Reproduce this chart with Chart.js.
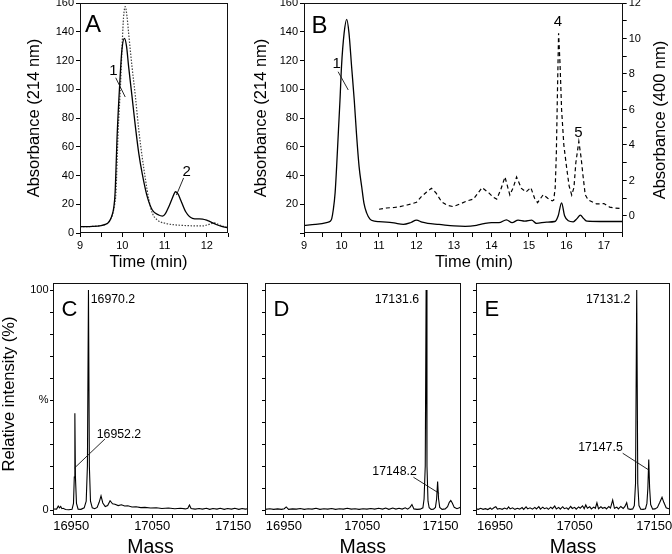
<!DOCTYPE html>
<html><head><meta charset="utf-8">
<script src="https://cdn.jsdelivr.net/npm/chart.js@4.4.0/dist/chart.umd.min.js"></script>
<style>
html,body{margin:0;padding:0;background:#fff;width:672px;height:554px;overflow:hidden}
canvas{position:absolute;left:0;top:0}
</style></head>
<body>
<canvas id="cA" width="672" height="554"></canvas>
<canvas id="cB" width="672" height="554"></canvas>
<canvas id="cC" width="672" height="554"></canvas>
<canvas id="cD" width="672" height="554"></canvas>
<canvas id="cE" width="672" height="554"></canvas>
<script>
// ---------- Panel A: chromatogram (214 nm) ----------
const timeA_solid = [9.0, 9.3, 9.5, 9.6, 9.67, 9.72, 9.76, 9.8, 9.83, 9.88, 9.94, 9.99, 10.05, 10.1, 10.15, 10.23, 10.31, 10.39, 10.47, 10.59, 10.71, 10.86, 10.95, 11.02, 11.1, 11.18, 11.26, 11.32, 11.38, 11.5, 11.66, 11.8, 11.9, 12.02, 12.1, 12.22, 12.35, 12.5];
const absA_solid  = [4.4, 4.6, 5.2, 6.0, 7.2, 9.5, 12.5, 18, 28, 69, 104, 127, 135.4, 130, 115.7, 95, 74, 55.4, 41.5, 25.3, 16, 12.5, 11.8, 13.5, 18.3, 24, 28.7, 27, 23, 14.8, 10.2, 9.8, 9.7, 8.6, 7.6, 5.9, 4.6, 3.6];
const timeA_dotted = [9.0, 9.3, 9.5, 9.6, 9.67, 9.72, 9.77, 9.82, 9.85, 9.9, 9.96, 10.0, 10.03, 10.07, 10.11, 10.15, 10.23, 10.31, 10.39, 10.47, 10.55, 10.63, 10.71, 10.83, 11.02, 11.2, 11.42, 11.65, 11.9, 12.05, 12.17, 12.3, 12.5];
const absA_dotted  = [4.4, 4.6, 5.2, 6.0, 7.2, 9.5, 13, 20, 28, 69, 104, 133, 150, 157.5, 151, 139, 115.7, 95, 71.7, 53, 36.9, 23, 13.9, 9, 6.7, 5.8, 5.3, 5.0, 4.9, 6.0, 7.0, 5.6, 3.6];

// ---------- Panel B: 214 nm (left) and 400 nm (right) ----------
const timeB_214 = [9.0, 9.3, 9.6, 9.7, 9.74, 9.78, 9.83, 9.87, 9.92, 9.96, 10.0, 10.07, 10.14, 10.2, 10.27, 10.34, 10.4, 10.47, 10.54, 10.6, 10.67, 10.76, 10.88, 11.0, 11.2, 11.4, 11.65, 11.85, 12.0, 12.15, 12.3, 12.6, 13.0, 13.3, 13.6, 13.8, 14.0, 14.2, 14.4, 14.55, 14.71, 14.89, 15.07, 15.2, 15.47, 15.69, 15.78, 15.87, 15.95, 16.05, 16.18, 16.28, 16.37, 16.46, 16.55, 16.9, 17.2, 17.5];
const absB_214  = [5.3, 6.0, 7.3, 8.2, 10, 16, 28, 46, 72, 92.5, 115.7, 139, 148.6, 139, 115.7, 92.5, 69, 46, 32, 20.6, 14, 9.7, 8.3, 7.9, 7.6, 7.0, 6.0, 7.3, 9.0, 7.5, 6.7, 6.0, 4.9, 4.6, 5.3, 6.5, 7.2, 7.2, 9.2, 7.2, 9.0, 8.3, 9.0, 6.7, 7.6, 8.0, 12, 21, 12, 8.5, 7.8, 10, 12.5, 10, 8.2, 8.0, 8.0, 8.0];
const timeB_400 = [11.0, 11.2, 11.4, 11.56, 11.75, 11.92, 12.0, 12.13, 12.27, 12.4, 12.52, 12.67, 12.82, 12.98, 13.16, 13.35, 13.52, 13.75, 13.93, 14.05, 14.14, 14.25, 14.36, 14.49, 14.58, 14.67, 14.8, 14.92, 15.05, 15.15, 15.23, 15.38, 15.5, 15.62, 15.66, 15.7, 15.73, 15.76, 15.79, 15.83, 15.87, 15.93, 16.0, 16.07, 16.14, 16.2, 16.25, 16.33, 16.39, 16.44, 16.5, 16.58, 16.8, 17.0, 17.15, 17.3, 17.5];
const absB_400  = [0.38, 0.45, 0.48, 0.53, 0.62, 0.72, 0.77, 1.09, 1.35, 1.56, 1.3, 0.8, 0.6, 0.53, 0.68, 0.85, 0.95, 1.6, 1.3, 1.05, 0.95, 1.5, 2.2, 1.18, 1.6, 2.2, 1.55, 1.35, 1.6, 1.0, 0.75, 1.2, 1.0, 0.85, 0.9, 1.6, 3.5, 7.0, 10.3, 8.5, 6.0, 4.0, 2.8, 1.7, 1.18, 1.6, 3.0, 4.2, 3.3, 2.3, 1.2, 0.9, 0.68, 0.7, 0.5, 0.45, 0.42];

// ---------- Panel C: mass spectrum ----------
const massC = [16927, 16932, 16934, 16935.5, 16937, 16938.5, 16940, 16943, 16947, 16951, 16952.8, 16953.8, 16954.5, 16955.2, 16956.5, 16958.5, 16962, 16966, 16968.5, 16970, 16971.3, 16972.4, 16973.8, 16976, 16979, 16982, 16984.5, 16986.8, 16989, 16992, 16995, 16998, 17001, 17004, 17008, 17012, 17016, 17020, 17025, 17030, 17036, 17041, 17048, 17055, 17062, 17070, 17078, 17085, 17091, 17094, 17096, 17098, 17103, 17108, 17112, 17117, 17121, 17125, 17130, 17134, 17139, 17143, 17148, 17152, 17157, 17161, 17165, 17169];
const intC  = [0.5, 0.4, 1.8, 1.0, 1.6, 0.6, 0.8, 0.2, 0.1, 0.3, 3, 15, 44, 15, 3, 0.4, 0.3, 1.0, 4, 20, 100, 20, 4, 1.0, 0.6, 1.2, 3.5, 6.4, 3.2, 1.6, 2.0, 4.2, 2.8, 2.6, 2.0, 2.4, 1.8, 1.9, 1.4, 1.5, 1.1, 1.2, 0.9, 1.0, 0.7, 0.9, 0.6, 0.8, 0.5, 0.8, 2.3, 0.7, 0.4, 0.7, 0.4, 0.8, 0.3, 0.7, 0.4, 0.8, 0.3, 0.7, 0.4, 0.8, 0.3, 0.7, 0.4, 0.6];

// ---------- Panel D ----------
const massD = [16926, 16932, 16937, 16942, 16947, 16950.5, 16953, 16956, 16961, 16966, 16971, 16976, 16981, 16986, 16991, 16996, 17001, 17006, 17011, 17016, 17021, 17026, 17031, 17036, 17041, 17046, 17051, 17056, 17061, 17066, 17071, 17076, 17080, 17084, 17089, 17093, 17097, 17101, 17105, 17108, 17111, 17113.5, 17116, 17120, 17124, 17127.5, 17129, 17130.5, 17131.6, 17132.7, 17134, 17135.5, 17138, 17141, 17143.5, 17145, 17146.3, 17147.5, 17149, 17152, 17156, 17159, 17161.2, 17163.1, 17165, 17167.5, 17171, 17174, 17177];
const intD  = [0.3, 0.6, 0.3, 0.5, 0.3, 0.6, 1.4, 0.3, 0.5, 0.4, 0.7, 0.3, 0.6, 0.4, 0.8, 0.3, 0.6, 0.4, 0.7, 0.3, 0.6, 0.4, 0.8, 0.4, 0.6, 0.3, 0.6, 0.4, 0.7, 0.4, 0.8, 0.4, 0.9, 0.3, 0.9, 0.4, 0.8, 0.4, 1.0, 0.4, 1.2, 2.5, 0.5, 0.3, 0.4, 1.0, 5, 20, 100, 20, 4, 1.0, 0.3, 0.4, 1.2, 5, 12.9, 5, 1.2, 0.3, 0.5, 1.5, 3.5, 4.3, 3.2, 1.2, 0.6, 1.0, 1.6];

// ---------- Panel E ----------
const massE = [16926, 16929, 16932, 16935, 16938, 16941, 16944, 16946, 16949, 16951, 16953, 16956, 16959, 16962, 16965, 16967, 16969, 16972, 16975, 16978, 16981, 16984, 16986, 16989, 16991, 16994, 16997, 17000, 17002, 17005, 17007, 17010, 17012, 17015, 17017, 17020, 17022, 17025, 17027, 17030, 17032, 17035, 17037, 17040, 17042, 17045, 17047, 17050, 17052, 17055, 17057, 17060, 17062, 17064, 17066, 17069, 17071, 17074, 17076, 17078, 17080, 17083, 17085, 17088, 17090, 17093, 17095, 17097.8, 17100, 17103, 17105, 17108, 17111, 17113, 17115.4, 17117, 17120, 17123, 17125, 17126.5, 17128, 17129.3, 17130.8, 17133, 17136, 17139, 17140.8, 17142, 17143.1, 17144.2, 17145.5, 17148, 17151, 17154, 17157, 17159.8, 17162, 17165, 17168, 17170];
const intE  = [0.5, 0.3, 0.8, 0.3, 0.6, 0.2, 0.9, 0.3, 1.1, 1.5, 0.4, 0.7, 0.3, 0.9, 0.4, 1.4, 0.5, 1.0, 0.3, 0.8, 0.4, 1.1, 0.3, 1.4, 0.5, 1.0, 0.4, 1.2, 0.5, 1.5, 0.4, 1.3, 0.6, 1.0, 0.3, 1.3, 0.6, 1.8, 0.5, 1.2, 0.4, 1.5, 0.6, 1.0, 0.3, 1.6, 0.7, 1.2, 0.4, 1.4, 0.8, 1.9, 0.6, 2.3, 0.8, 1.5, 0.5, 1.3, 0.8, 3.3, 0.6, 1.5, 0.8, 1.2, 0.5, 1.6, 0.9, 4.5, 0.8, 1.3, 0.5, 1.6, 0.7, 1.5, 3.3, 0.6, 0.3, 0.5, 2, 12, 100, 12, 2, 0.4, 0.3, 0.6, 3, 10, 23, 10, 2.5, 0.4, 0.5, 1.2, 3.5, 5.8, 3.5, 1.0, 0.6, 0.8];

// ---------- tick labels ----------
const timeLabelsA = [9, 10, 11, 12];
const timeLabelsB = [9, 10, 11, 12, 13, 14, 15, 16, 17];
const massLabels = [16950, 17050, 17150];

// ================= helpers =================
const FONT = "'Liberation Sans', Arial, Helvetica, sans-serif";
Chart.defaults.font.family = FONT;
Chart.defaults.color = '#000';
Chart.defaults.animation = false;

const pts = (xs, ys) => xs.map((x, i) => ({x: x, y: ys[i]}));
const fixedTicks = (a, b, s) => sc => {
  const t = [];
  for (let k = 0; a + k * s <= b + 1e-9; k++) t.push({value: +(a + k * s).toFixed(6)});
  sc.ticks = t;
};
const fit = (w, h) => sc => {
  if (w != null) sc.width = w;
  if (h != null) sc.height = h;
  sc.paddingLeft = sc.paddingRight = sc.paddingTop = sc.paddingBottom = 0;
};
function axis(o) {
  return {
    type: 'linear', position: o.pos, min: o.min, max: o.max,
    afterBuildTicks: fixedTicks(o.a, o.b, o.step),
    afterFit: o.horiz ? fit(null, o.size) : fit(o.size, null),
    grid: {display: true, drawOnChartArea: false, drawTicks: true, tickLength: o.tl, color: '#000', lineWidth: 1},
    border: {display: false},
    ticks: {autoSkip: false, maxRotation: 0, minRotation: 0, padding: o.pad, font: {size: o.font}, color: '#000', callback: o.cb}
  };
}

const deco = {
  id: 'deco',
  afterDraw(chart, args, o) {
    const {ctx, chartArea: ca, scales} = chart;
    ctx.save();
    ctx.strokeStyle = '#111'; ctx.lineWidth = 1;
    const L = Math.round(ca.left) + 0.5, T = Math.round(ca.top) + 0.5,
          R = Math.round(ca.right) - 0.5, B = Math.round(ca.bottom) - 0.5;
    ctx.strokeRect(L, T, R - L, B - T);
    ctx.fillStyle = '#000';
    if (o.letter) {
      ctx.font = o.letter.size + 'px ' + FONT;
      ctx.textAlign = 'left'; ctx.textBaseline = 'alphabetic';
      ctx.fillText(o.letter.t, ca.left + o.letter.dx, ca.top + o.letter.dy);
    }
    const X = scales.x;
    (o.leaders || []).forEach(l => {
      const Y = scales[l.ax || 'y'];
      ctx.beginPath(); ctx.lineWidth = 0.9; ctx.strokeStyle = '#111';
      ctx.moveTo(X.getPixelForValue(l.x1), Y.getPixelForValue(l.y1));
      ctx.lineTo(X.getPixelForValue(l.x2), Y.getPixelForValue(l.y2));
      ctx.stroke();
    });
    (o.notes || []).forEach(n => {
      const Y = scales[n.ax || 'y'];
      ctx.font = n.size + 'px ' + FONT;
      ctx.textAlign = n.align || 'center';
      ctx.textBaseline = n.base || 'middle';
      ctx.fillText(n.t, X.getPixelForValue(n.x), Y.getPixelForValue(n.y));
    });
    (o.titles || []).forEach(t => {
      ctx.save();
      ctx.translate(t.x, t.y);
      if (t.rot) ctx.rotate(t.rot * Math.PI / 180);
      ctx.font = t.size + 'px ' + FONT;
      ctx.textAlign = 'center'; ctx.textBaseline = 'alphabetic';
      ctx.fillText(t.t, 0, 0);
      ctx.restore();
    });
    ctx.restore();
  }
};

function make(id, datasets, scales, padding, decoOpts) {
  return new Chart(document.getElementById(id), {
    type: 'line',
    data: {datasets: datasets},
    options: {
      responsive: false, animation: false, events: [],
      layout: {padding: padding},
      scales: scales,
      plugins: {legend: {display: false}, tooltip: {enabled: false}, deco: decoOpts}
    },
    plugins: [deco]
  });
}
const line = (data, extra) => Object.assign({
  data: data, borderColor: '#000', borderWidth: 1.2, pointRadius: 0, fill: false, tension: 0
}, extra || {});

// ================= Panel A =================
make('cA', [
  line(pts(timeA_solid, absA_solid), {cubicInterpolationMode: 'monotone', borderWidth: 1.3}),
  line(pts(timeA_dotted, absA_dotted), {cubicInterpolationMode: 'monotone', borderColor: '#444', borderDash: [1.5, 1.5], borderWidth: 1.2})
], {
  x: axis({pos: 'bottom', horiz: true, min: 9, max: 12.5, a: 9, b: 12.5, step: 0.5, size: 30, tl: 4, pad: 2, font: 11,
           cb: v => timeLabelsA.includes(v) ? String(v) : ''}),
  y: axis({pos: 'left', min: 0, max: 160, a: 0, b: 160, step: 20, size: 40, tl: 4, pad: 2, font: 11, cb: v => String(v)})
}, {left: 40, right: 444, top: 3, bottom: 291}, {
  letter: {t: 'A', size: 24, dx: 5, dy: 29},
  leaders: [{x1: 9.845, y1: 108, x2: 10.07, y2: 94.6}, {x1: 11.45, y1: 38.3, x2: 11.28, y2: 26.4}],
  notes: [{t: '1', x: 9.79, y: 113, size: 15}, {t: '2', x: 11.52, y: 42.6, size: 15}],
  titles: [{t: 'Absorbance (214 nm)', x: 39, y: 118, rot: -90, size: 16.5},
           {t: 'Time (min)', x: 148.5, y: 266.5, size: 16.5}]
});

// ================= Panel B =================
make('cB', [
  line(pts(timeB_214, absB_214), {cubicInterpolationMode: 'monotone', borderWidth: 1.3, yAxisID: 'y'}),
  line(pts(timeB_400, absB_400), {borderDash: [4, 3], borderWidth: 1.2, yAxisID: 'y1'})
], {
  x: axis({pos: 'bottom', horiz: true, min: 9, max: 17.5, a: 9, b: 17.5, step: 0.5, size: 30, tl: 4, pad: 2, font: 11,
           cb: v => timeLabelsB.includes(v) ? String(v) : ''}),
  y: axis({pos: 'left', min: 0, max: 160, a: 0, b: 160, step: 20, size: 40, tl: 4, pad: 2, font: 11, cb: v => v === 0 ? '' : String(v)}),
  y1: axis({pos: 'right', min: -0.958, max: 12, a: 0, b: 12, step: 1, size: 40, tl: 4, pad: 2, font: 11, cb: v => v % 2 === 0 ? String(v) : ''})
}, {left: 264, right: 9.3, top: 3, bottom: 291}, {
  letter: {t: 'B', size: 24, dx: 7.5, dy: 29.5},
  leaders: [{x1: 9.91, y1: 112.2, x2: 10.18, y2: 99.5}],
  notes: [{t: '1', x: 9.87, y: 118, size: 15},
          {t: '4', x: 15.77, y: 10.95, ax: 'y1', size: 15},
          {t: '5', x: 16.32, y: 4.69, ax: 'y1', size: 15}],
  titles: [{t: 'Absorbance (214 nm)', x: 265.5, y: 118, rot: -90, size: 16.5},
           {t: 'Time (min)', x: 474, y: 266.5, size: 16.5},
           {t: 'Absorbance (400 nm)', x: 665, y: 120, rot: -90, size: 16.5}]
});

// ================= Panels C, D, E =================
function spec(id, mass, inten, xmin, xmax, left, right, letter, ycb, decoExtra) {
  const d = Object.assign({letter: {t: letter, size: 22, dx: 8.5, dy: 32.7}}, decoExtra);
  d.titles = (d.titles || []).concat([{t: 'Mass', x: (left + right) / 2, y: 552.5, size: 19.5}]);
  return make(id, [line(pts(mass, inten), {borderWidth: 1.1})], {
    x: axis({pos: 'bottom', horiz: true, min: xmin, max: xmax, a: 16950, b: 17150, step: 25, size: 20, tl: 3, pad: 1, font: 13,
             cb: v => massLabels.includes(v) ? String(v) : ''}),
    y: axis({pos: 'left', min: -2.27, max: 103.05, a: 0, b: 100, step: 10, size: 40, tl: 3, pad: 1.5, font: 11, cb: ycb})
  }, {left: left - 40, right: 672 - right, top: 283.3, bottom: 19}, d);
}

spec('cC', massC, intC, 16927.5, 17168.3, 53, 248, 'C',
  v => v === 100 ? '100' : v === 50 ? '%' : v === 0 ? '0' : '', {
  leaders: [{x1: 16991.7, y1: 32.3, x2: 16954.1, y2: 19.1}],
  notes: [{t: '16970.2', x: 16974.1, y: 94, size: 12.3, align: 'left', base: 'alphabetic'},
          {t: '16952.2', x: 16981.5, y: 32.6, size: 12.3, align: 'left', base: 'alphabetic'}],
  titles: [{t: 'Relative intensity (%)', x: 14, y: 394, rot: -90, size: 16.5}]
});

spec('cD', massD, intD, 16925.9, 17175.5, 265, 460.5, 'D', v => '', {
  leaders: [{x1: 17115.4, y1: 14.9, x2: 17148.2, y2: 7.6}],
  notes: [{t: '17131.6', x: 17122.7, y: 94.2, size: 12.3, align: 'right', base: 'alphabetic'},
          {t: '17148.2', x: 17119.7, y: 15.9, size: 12.3, align: 'right', base: 'alphabetic'}]
});

spec('cE', massE, intE, 16926.1, 17169.8, 476, 670, 'E', v => '', {
  leaders: [{x1: 17110.4, y1: 25.8, x2: 17143.1, y2: 18.2}],
  notes: [{t: '17131.2', x: 17120, y: 94.2, size: 12.3, align: 'right', base: 'alphabetic'},
          {t: '17147.5', x: 17110.4, y: 26.8, size: 12.3, align: 'right', base: 'alphabetic'}]
});
</script>
</body></html>
